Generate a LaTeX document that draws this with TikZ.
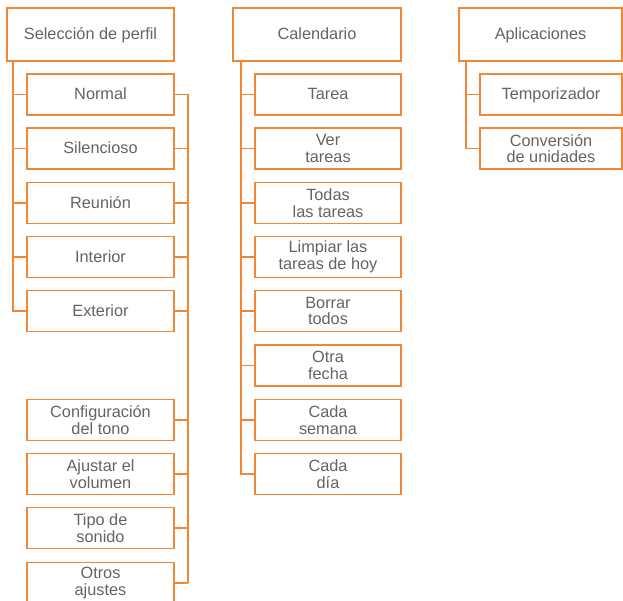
\documentclass[tikz,border=0pt]{standalone}
\usepackage{fontspec}
\setmainfont{Liberation Sans}
\definecolor{org}{RGB}{240,136,56}
\definecolor{txt}{RGB}{100,100,100}
\begin{document}
\begin{tikzpicture}[x=1pt,y=-1pt,
  box/.style={draw=org,line width=1.5pt,fill=white,inner sep=0pt,align=center,
    text=txt,font=\fontsize{16.3}{16.8}\selectfont},
  one/.style={text height=13pt,text depth=2pt},
  head/.style={box,one,minimum height=53pt},
  item/.style={box,minimum height=41pt},
  conn/.style={draw=org,line width=1.4pt}]
\useasboundingbox (0,0) rectangle (623,601);
% column 1
\node[head,minimum width=167pt] (sel) at (90.5,34.5) {Selección de perfil};
\node[item,one,minimum width=147pt] (nor) at (100.5,94.5) {Normal};
\node[item,one,minimum width=147pt] (sil) at (100.5,148.5) {Silencioso};
\node[item,one,minimum width=147pt] (reu) at (100.5,203) {Reunión};
\node[item,one,minimum width=147pt] (int) at (100.5,257) {Interior};
\node[item,one,minimum width=147pt] (ext) at (100.5,311) {Exterior};
\node[item,minimum width=147pt] (ton) at (100.5,420) {Configuración\\del tono};
\node[item,minimum width=147pt] (vol) at (100.5,474) {Ajustar el\\volumen};
\node[item,minimum width=147pt] (son) at (100.5,528) {Tipo de\\sonido};
\node[item,minimum width=147pt] (otr) at (100.5,583) {Otros\\ajustes};
\coordinate (t1) at (13,61);
\coordinate (b1) at (188,94.5);
\foreach \n in {nor,sil,reu,int,ext}{\draw[conn] (t1) |- (\n.west);}
\foreach \n in {nor,sil,reu,int,ext,ton,vol,son,otr}{\draw[conn] (\n.east) -- (\n.east -| b1);}
\draw[conn] (nor.east -| b1) -- (otr.east -| b1);
% column 2
\node[head,minimum width=168pt] (cal) at (317,34.5) {Calendario};
\node[item,one,minimum width=146pt] (tar) at (328,94.5) {Tarea};
\node[item,minimum width=146pt] (ver) at (328,148.5) {Ver\\tareas};
\node[item,minimum width=146pt] (tod) at (328,203) {Todas\\las tareas};
\node[item,minimum width=146pt] (lim) at (328,257) {Limpiar las\\tareas de hoy};
\node[item,minimum width=146pt] (bor) at (328,311) {Borrar\\todos};
\node[item,minimum width=146pt] (ofe) at (328,365.5) {Otra\\fecha};
\node[item,minimum width=146pt] (sem) at (328,420) {Cada\\semana};
\node[item,minimum width=146pt] (dia) at (328,474) {Cada\\día};
\coordinate (t2) at (241,61);
\foreach \n in {tar,ver,tod,lim,bor,ofe,sem,dia}{\draw[conn] (t2) |- (\n.west);}
% column 3
\node[head,minimum width=163pt] (apl) at (540.5,34.5) {Aplicaciones};
\node[item,one,minimum width=142pt] (tem) at (551,94.5) {Temporizador};
\node[item,minimum width=142pt] (con) at (551,148.5) {Conversión\\de unidades};
\coordinate (t3) at (466,61);
\foreach \n in {tem,con}{\draw[conn] (t3) |- (\n.west);}
\end{tikzpicture}
\end{document}
